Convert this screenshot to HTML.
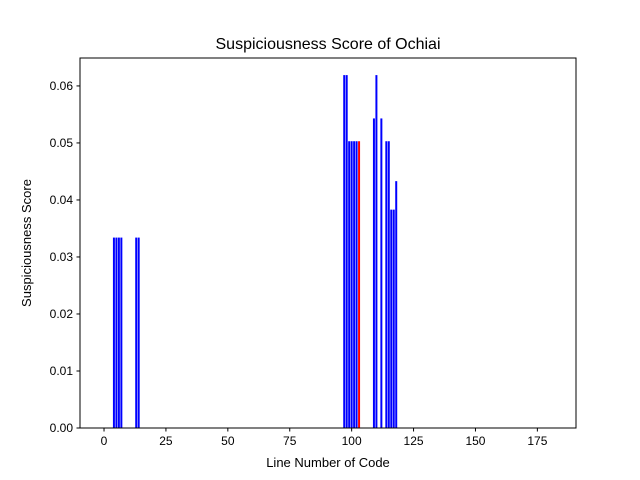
<!DOCTYPE html>
<html><head><meta charset="utf-8"><style>body{margin:0;background:#fff}svg{display:block;font-family:"Liberation Sans","DejaVu Sans",sans-serif}</style></head>
<body>
<svg id="c" width="640" height="480"></svg>
<script>
const lines=[4,5,6,7,13,14,97,98,99,100,101,102,103,109,110,112,114,115,116,117,118];
const scores=[0.0334,0.0334,0.0334,0.0334,0.0334,0.0334,0.0619,0.0619,0.0503,0.0503,0.0503,0.0503,0.0503,0.0543,0.0619,0.0543,0.0503,0.0503,0.0383,0.0383,0.0433];
const colors=["blue","blue","blue","blue","blue","blue","blue","blue","blue","blue","blue","blue","red","blue","blue","blue","blue","blue","blue","blue","blue"];
const xTicks=[0,25,50,75,100,125,150,175];
const yTicks=[0,0.01,0.02,0.03,0.04,0.05,0.06];
const L=80,R=576,T=58,B=428,xmin=-9.7,xmax=190.6,ymax=0.0649;
const X=v=>L+(v-xmin)/(xmax-xmin)*(R-L);
const Y=v=>B-v/ymax*(B-T);
const s=document.getElementById('c');const NS='http://www.w3.org/2000/svg';
function mk(t,a,p){const e=document.createElementNS(NS,t);for(const k in a)e.setAttribute(k,a[k]);(p||s).appendChild(e);return e;}
lines.forEach((l,i)=>{const r=mk('rect',{x:X(l-0.4),y:Y(scores[i]),width:X(0.8)-X(0),height:B-Y(scores[i]),fill:colors[i]});

});
const fr=mk('rect',{x:L,y:T,width:R-L,height:B-T,fill:'none',stroke:'#000','stroke-width':1});


xTicks.forEach(v=>{const x=X(v);mk('line',{x1:x,x2:x,y1:B,y2:B+3.5,stroke:'#000'});
const t=mk('text',{x:x,y:B+17,'text-anchor':'middle','font-size':12});t.textContent=v;

});
yTicks.forEach(v=>{const y=Y(v);mk('line',{x1:L-3.5,x2:L,y1:y,y2:y,stroke:'#000'});
const t=mk('text',{x:L-7,y:y+4,'text-anchor':'end','font-size':12});t.textContent=v.toFixed(2);

});
let t=mk('text',{x:328,y:49,'text-anchor':'middle','font-size':16});t.textContent='Suspiciousness Score of Ochiai';


t=mk('text',{x:328,y:467,'text-anchor':'middle','font-size':13});t.textContent='Line Number of Code';


t=mk('text',{x:31,y:243,'text-anchor':'middle','font-size':13,transform:'rotate(-90 31 243)'});t.textContent='Suspiciousness Score';


</script>
</body></html>
